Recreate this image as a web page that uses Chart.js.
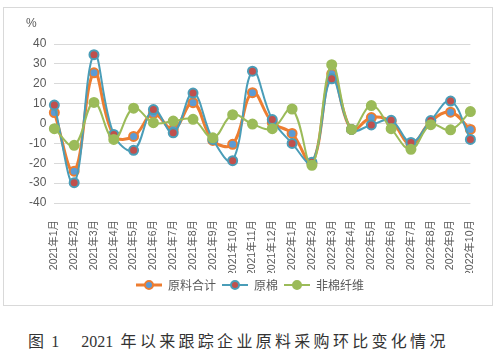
<!DOCTYPE html>
<html>
<head>
<meta charset="utf-8">
<script src="https://cdn.jsdelivr.net/npm/chart.js@4/dist/chart.umd.min.js"></script>
<style>
    body { margin: 0; background: #fff; width: 500px; height: 353px; position: relative; overflow: hidden; }
    #box { position: absolute; left: 3px; top: 7px; width: 488px; height: 297px; border: 1px solid #d9d9d9; }
    #caption { position: absolute; left: 28px; top: 328px; font-family: "Liberation Serif", "Noto Sans CJK SC", serif;
        font-size: 16px; letter-spacing: 3.3px; color: #333; white-space: nowrap; }
    #caption .num { letter-spacing: 0; }
</style>
</head>
<body>
<div id="box"><canvas id="myChart" width="488" height="297"></canvas></div>
<div id="caption">图<span class="num" style="margin-left:4px">1</span><span class="num" style="margin-left:22px">2021</span> 年以来跟踪企业原料采购环比变化情况</div>
<script>
var months = ['2021年1月', '2021年2月', '2021年3月', '2021年4月', '2021年5月', '2021年6月',
    '2021年7月', '2021年8月', '2021年9月', '2021年10月', '2021年11月', '2021年12月',
    '2022年1月', '2022年2月', '2022年3月', '2022年4月', '2022年5月', '2022年6月',
    '2022年7月', '2022年8月', '2022年9月', '2022年10月'];

var totalData = [5.5, -24, 25.5, -6, -6.5, 5, -3, 10.5, -8.5, -10.5, 15.5, 0.5,
    -5, -20, 25, -3, 3, 1, -10.5, 1, 5.7, -3];
var cottonData = [9.3, -29.8, 34.6, -5.5, -13.5, 7, -4.7, 15.3, -8, -18.7, 26.3, 2,
    -10, -19.5, 22.5, -3, -0.7, 1.6, -9.5, 1.5, 11.3, -8];
var fiberData = [-2.6, -11, 10.6, -8, 7.7, 0.4, 1.2, 2.1, -7.2, 4.4, -0.3, -2.6,
    7.3, -21, 29.6, -3, 9, -2.6, -13, -0.6, -3.2, 6];

var yTicks = [-40, -30, -20, -10, 0, 10, 20, 30, 40];

function legendIcon(lineColor, lineWidth, fill, border) {
    var c = document.createElement('canvas');
    c.width = 26;
    c.height = 12;
    var g = c.getContext('2d');
    g.strokeStyle = lineColor;
    g.lineWidth = lineWidth;
    g.beginPath();
    g.moveTo(0, 6);
    g.lineTo(26, 6);
    g.stroke();
    g.beginPath();
    g.arc(13, 6, 4, 0, Math.PI * 2);
    g.fillStyle = fill;
    g.fill();
    g.lineWidth = 2;
    g.strokeStyle = border;
    g.stroke();
    return c;
}

var percentLabel = {
    id: 'percentLabel',
    afterDraw: function (chart) {
        var ctx = chart.ctx;
        var y = chart.scales.y;
        ctx.save();
        ctx.fillStyle = '#595959';
        ctx.font = '12px "Liberation Sans"';
        ctx.textAlign = 'center';
        ctx.textBaseline = 'middle';
        ctx.fillText('%', y.right - 23, chart.chartArea.top - 20);
        ctx.restore();
    }
};

var ctx = document.getElementById('myChart');
var myChart = new Chart(ctx, {
    type: 'line',
    plugins: [percentLabel],
    data: {
        labels: months,
        datasets: [{
            label: '原料合计',
            data: totalData,
            borderColor: '#ED7D31',
            borderWidth: 3,
            pointBackgroundColor: '#5B9BD5',
            pointBorderColor: '#ED7D31',
            pointBorderWidth: 2,
            pointRadius: 4.5,
            order: 2,
            tension: 0.4
        }, {
            label: '原棉',
            data: cottonData,
            borderColor: '#4A9DB8',
            borderWidth: 2,
            pointBackgroundColor: '#C0504D',
            pointBorderColor: '#4A9DB8',
            pointBorderWidth: 2,
            pointRadius: 4.5,
            order: 1,
            tension: 0.4
        }, {
            label: '非棉纤维',
            data: fiberData,
            borderColor: '#9BBB59',
            borderWidth: 2,
            pointBackgroundColor: '#9BBB59',
            pointBorderColor: '#9BBB59',
            pointBorderWidth: 2,
            pointRadius: 4.5,
            order: 0,
            tension: 0.4
        }]
    },
    options: {
        responsive: false,
        animation: false,
        layout: {
            padding: { top: 36, right: 13, left: 17, bottom: 4 }
        },
        plugins: {
            tooltip: { enabled: false },
            legend: {
                position: 'bottom',
                labels: {
                    color: '#595959',
                    font: { size: 12, family: '"Noto Sans CJK SC"' },
                    usePointStyle: true,
                    pointStyleWidth: 26,
                    boxHeight: 12,
                    padding: 6,
                    sort: function (a, b) { return a.datasetIndex - b.datasetIndex; },
                    generateLabels: function (chart) {
                        var icons = [
                            legendIcon('#ED7D31', 3, '#5B9BD5', '#ED7D31'),
                            legendIcon('#4A9DB8', 2, '#C0504D', '#4A9DB8'),
                            legendIcon('#9BBB59', 2, '#9BBB59', '#9BBB59')
                        ];
                        return chart.data.datasets.map(function (ds, i) {
                            return {
                                text: ds.label,
                                pointStyle: icons[i],
                                fontColor: '#595959',
                                lineWidth: 0,
                                strokeStyle: 'transparent',
                                fillStyle: 'transparent',
                                datasetIndex: i
                            };
                        });
                    }
                }
            }
        },
        scales: {
            x: {
                grid: { display: false },
                border: { display: false },
                afterFit: function (axis) {
                    axis.height = 70;
                },
                ticks: {
                    color: '#595959',
                    font: { size: 10.5, family: '"Liberation Sans", "Noto Sans CJK SC"' },
                    minRotation: 90,
                    maxRotation: 90,
                    autoSkip: false,
                    padding: 9
                }
            },
            y: {
                min: -40,
                max: 40,
                afterBuildTicks: function (axis) {
                    axis.ticks = yTicks.map(function (v) { return { value: v }; });
                },
                grid: { color: '#D9D9D9', drawTicks: false },
                border: { display: false },
                ticks: {
                    color: '#595959',
                    font: { size: 12, family: '"Liberation Sans"' },
                    padding: 8
                }
            }
        }
    }
});
</script>
</body>
</html>
